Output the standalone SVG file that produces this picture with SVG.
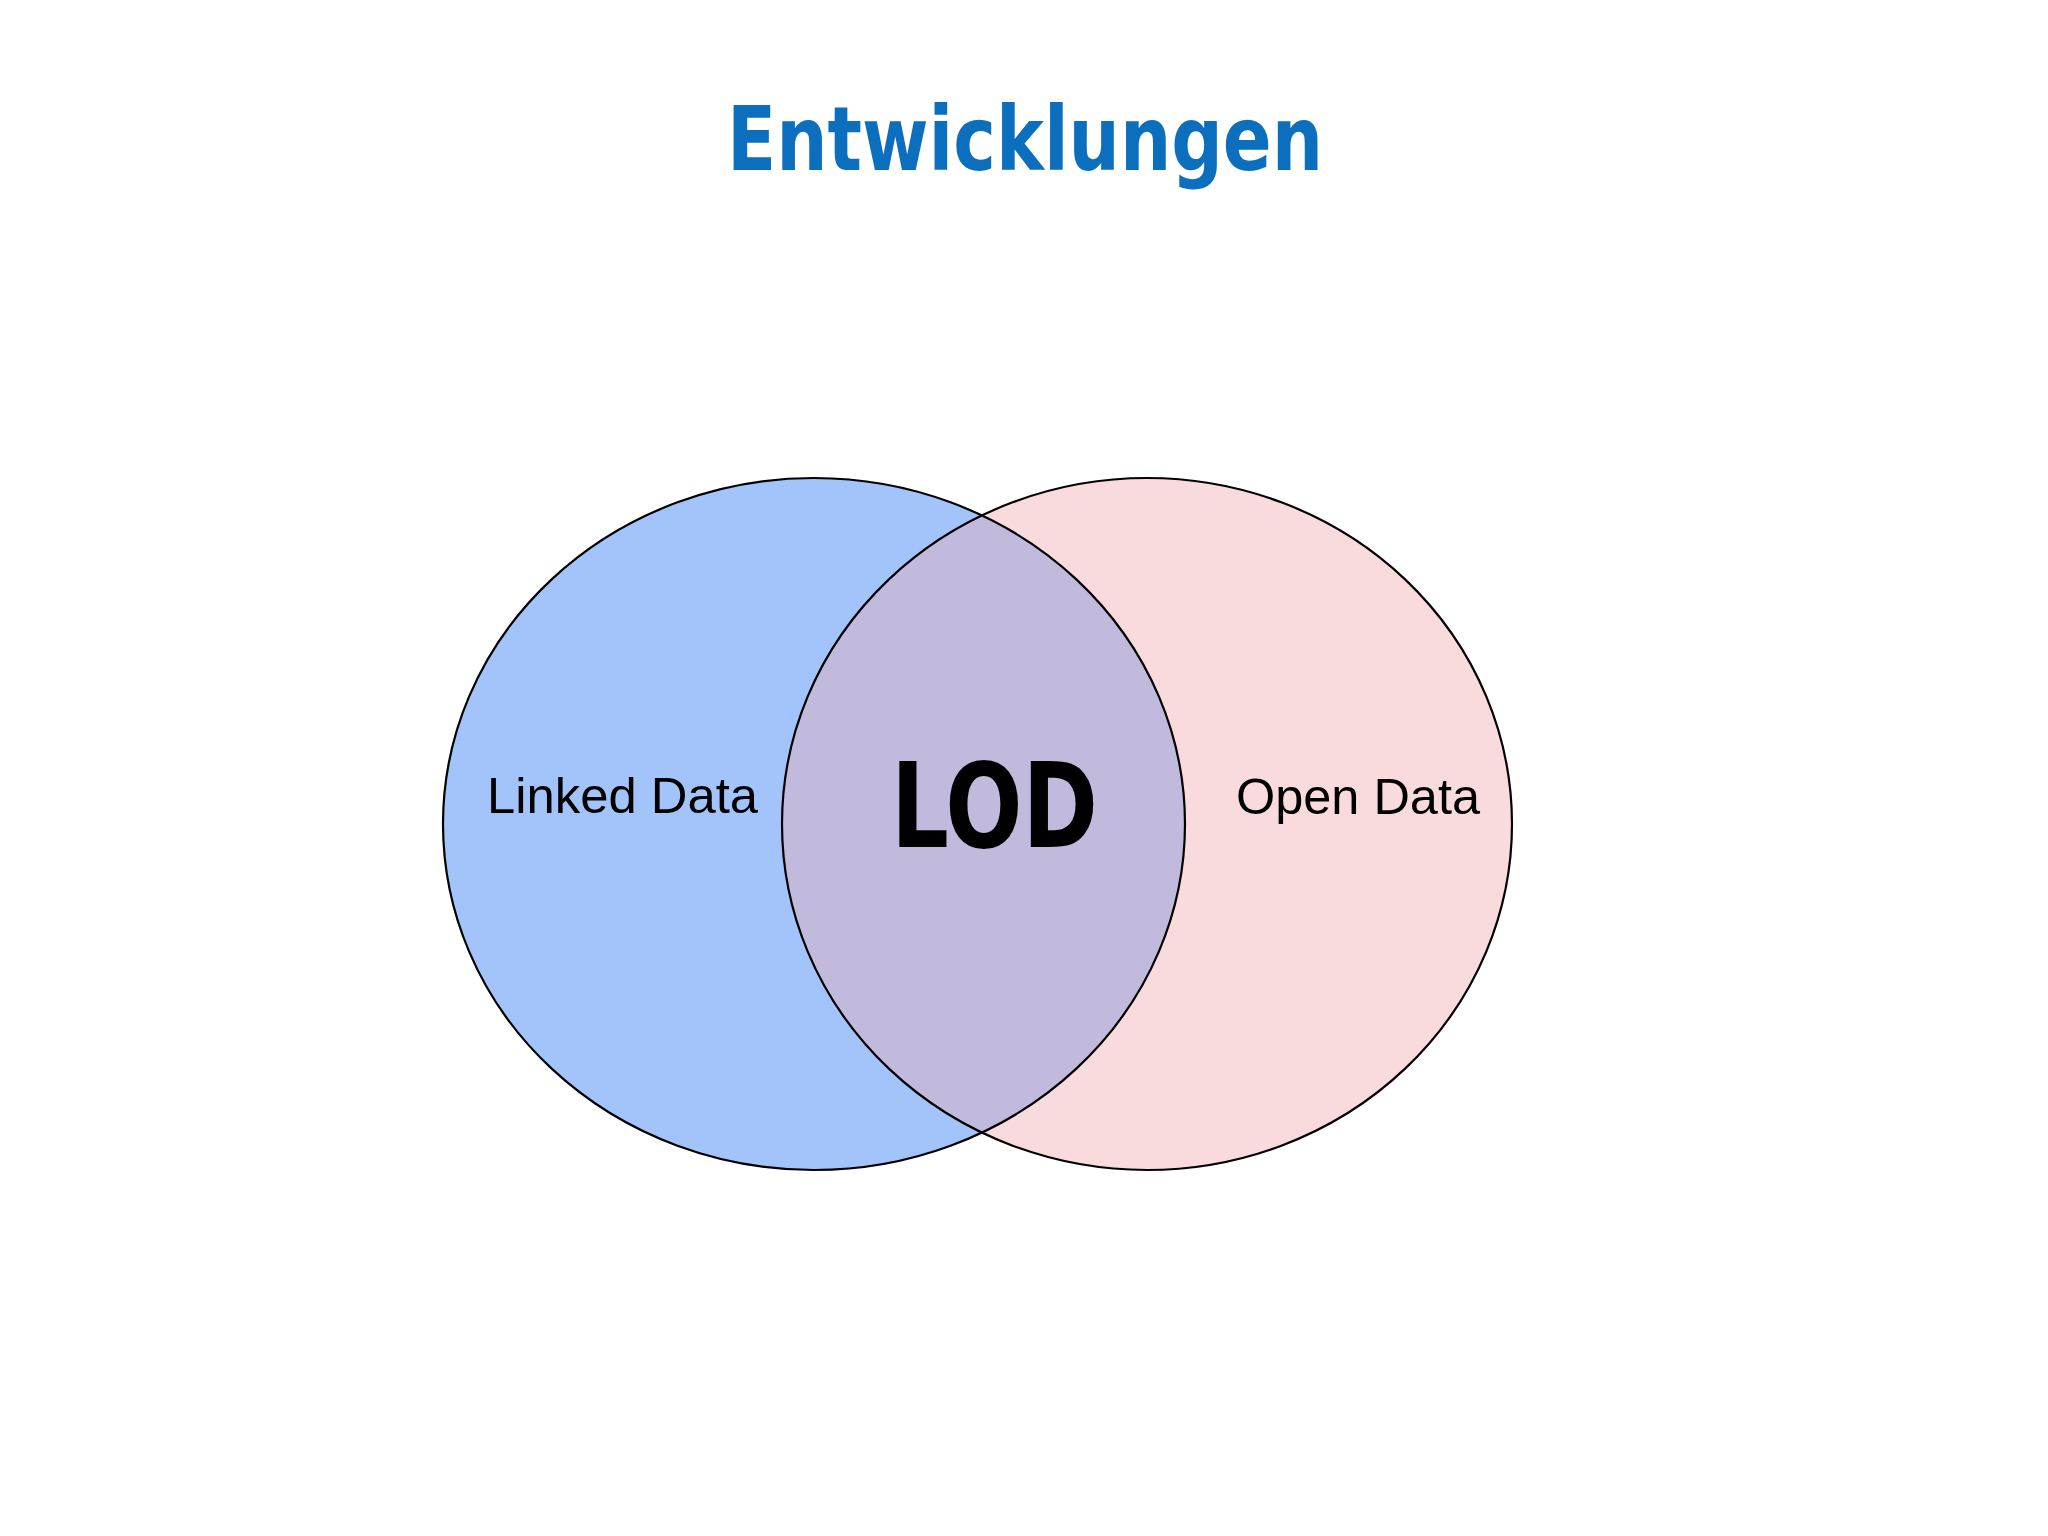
<svg xmlns="http://www.w3.org/2000/svg" width="2048" height="1536" viewBox="0 0 2048 1536">
<style>
.title{font-family:"DejaVu Sans Condensed","DejaVu Sans",sans-serif;font-weight:bold;fill:#0b6fbe;font-size:89px}
.lod{font-family:"DejaVu Sans Condensed","DejaVu Sans",sans-serif;font-weight:bold;fill:#000;font-size:117px}
.lbl{font-family:"Liberation Sans",Arial,sans-serif;fill:#000;font-size:50px}
.edge{fill:none;stroke:#000;stroke-width:2.2}
</style>
<defs>
<clipPath id="clipL"><ellipse cx="814" cy="824" rx="371" ry="346"/></clipPath>
</defs>
<rect width="2048" height="1536" fill="#ffffff"/>
<text id="title" class="title" x="727" y="170" textLength="596" lengthAdjust="spacingAndGlyphs">Entwicklungen</text>
<g id="linked-data">
<ellipse cx="814" cy="824" rx="371" ry="346" fill="#a2c4fb"/>
</g>
<g id="open-data">
<ellipse cx="1147" cy="824" rx="365" ry="346" fill="#f9dadd"/>
</g>
<g id="lod">
<ellipse cx="1147" cy="824" rx="365" ry="346" fill="#c2badc" clip-path="url(#clipL)"/>
</g>
<g id="outlines">
<ellipse class="edge" cx="814" cy="824" rx="371" ry="346"/>
<ellipse class="edge" cx="1147" cy="824" rx="365" ry="346"/>
</g>
<text class="lbl" x="487" y="813" textLength="271" lengthAdjust="spacingAndGlyphs">Linked Data</text>
<text class="lbl" x="1236" y="814" textLength="244" lengthAdjust="spacingAndGlyphs">Open Data</text>
<text class="lod" x="891" y="847" textLength="207" lengthAdjust="spacingAndGlyphs">LOD</text>
</svg>
